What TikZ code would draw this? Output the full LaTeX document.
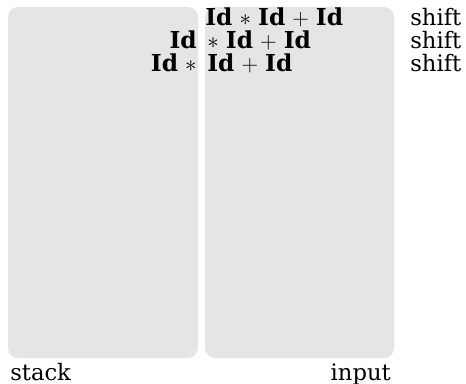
\documentclass[tikz,border=0pt]{standalone}
\usepackage{fontspec}
\setmainfont{DejaVu Serif}
\usetikzlibrary{positioning}
\newcommand{\wideops}{\medmuskip=5.5mu\relax}

\begin{document}
\begin{tikzpicture}[
  x=0.75pt, y=-0.75pt,
  part/.style={fill=gray!20, rounded corners=7.5pt},
  tok/.style={inner sep=0pt, font=\fontsize{17.5}{18}\selectfont},
  lbl/.style={inner sep=0pt, font=\fontsize{17}{18}\selectfont}
]
\useasboundingbox (0,0) rectangle (466,384);
\fill[part] (8,7) rectangle (198,358);
\fill[part] (205,7) rectangle (394,358);

% input side
\node[tok, anchor=base west] (in1) at (205,26) {$\wideops\mathbf{Id}*\mathbf{Id}+\mathbf{Id}$};
\node[tok, anchor=base west] (in2) at (200,49) {$\wideops{}*\mathbf{Id}+\mathbf{Id}$};
\node[tok, anchor=base west] (in3) at (207,72) {$\wideops\mathbf{Id}+\mathbf{Id}$};
% stack side
\node[tok, anchor=base east] (st2) at (197,49) {$\mathbf{Id}$};
\node[tok, anchor=base east] (st3) at (197,72) {$\wideops\mathbf{Id}\mskip\medmuskip*$};
% actions
\node[lbl, anchor=base west] (act1) at (410,26) {shift};
\node[lbl, anchor=base west] (act2) at (410,49) {shift};
\node[lbl, anchor=base west] (act3) at (410,72) {shift};

\node[lbl, anchor=base west] (stack) at (10,380) {stack};
\node[lbl, anchor=base east] (input) at (391,380) {input};
\end{tikzpicture}
\end{document}
